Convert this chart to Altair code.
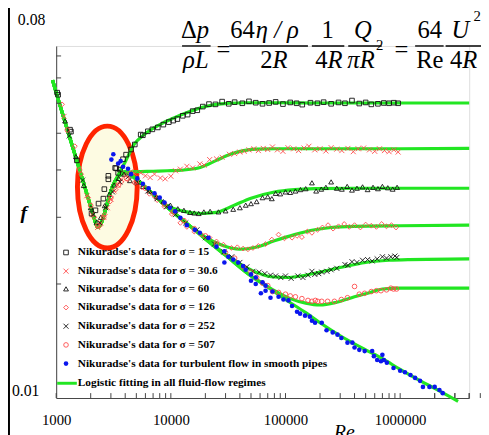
import altair as alt
import pandas as pd

SERIF = "'Liberation Serif', 'Times New Roman', serif"

# ---------------- data (Re, f) ----------------
re15 = [1020, 1040, 1320, 1345, 1515, 2035, 2200, 2340, 2580, 2630, 2850, 2850, 3270, 3340, 3470, 3600, 3830, 4070, 4500, 4850,
        5460, 5700, 6300, 6900, 7700, 8600, 9600, 10500, 11400, 12700, 14000, 15500, 17000, 19000, 21500, 24500, 28000, 32000,
        36000, 42000, 48000, 55000, 63000, 72000, 82000, 95000, 110000, 125000, 140000, 165000, 190000, 215000, 250000, 290000,
        330000, 380000, 440000, 500000, 560000, 640000, 720000, 800000, 880000, 960000]
f15 = [0.0640, 0.0632, 0.0511, 0.0505, 0.0424, 0.0307, 0.0313, 0.0326, 0.0336, 0.0356, 0.0378, 0.0386, 0.0405, 0.0404, 0.0393,
       0.0401, 0.0427, 0.0439, 0.0453, 0.0467, 0.0496, 0.0494, 0.0506, 0.0512, 0.0518, 0.0527, 0.0535, 0.0540, 0.0545, 0.0556,
       0.0560, 0.0572, 0.0575, 0.0588, 0.0597, 0.0596, 0.0606, 0.0598, 0.0604, 0.0600, 0.0607, 0.0602, 0.0598, 0.0601, 0.0605,
       0.0597, 0.0603, 0.0600, 0.0595, 0.0602, 0.0600, 0.0604, 0.0598, 0.0603, 0.0600, 0.0610, 0.0599, 0.0603, 0.0596, 0.0598,
       0.0601, 0.0600, 0.0602, 0.0600]

re30 = [1170, 1850, 2050, 2300, 2450, 2600, 2800, 3000, 3200, 3450, 3700, 4000, 4400, 4800, 5460, 6000, 6600, 7200, 8100, 8930,
        10000, 11000, 12100, 13800, 15500, 17900, 19500, 21800, 25000, 28000, 32400, 36000, 40000, 43600, 48000, 53000, 58000,
        64000, 70000, 77000, 85000, 95000, 105000, 118000, 130000, 145000, 160000, 180000, 200000, 225000, 250000, 280000,
        310000, 350000, 390000, 430000, 480000, 540000, 600000, 660000, 730000, 800000, 880000, 960000]
f30 = [0.0554, 0.0342, 0.0305, 0.0282, 0.0290, 0.0300, 0.0318, 0.0335, 0.0352, 0.0365, 0.0378, 0.0390, 0.0395, 0.0392, 0.0393,
       0.0386, 0.0382, 0.0390, 0.0381, 0.0379, 0.0385, 0.0398, 0.0402, 0.0409, 0.0405, 0.0415, 0.0412, 0.0426, 0.0428, 0.0432,
       0.0440, 0.0442, 0.0446, 0.0448, 0.0452, 0.0455, 0.0450, 0.0456, 0.0453, 0.0460, 0.0452, 0.0448, 0.0458, 0.0455, 0.0450,
       0.0457, 0.0462, 0.0452, 0.0455, 0.0449, 0.0458, 0.0454, 0.0450, 0.0456, 0.0447, 0.0455, 0.0457, 0.0452, 0.0448, 0.0455,
       0.0450, 0.0447, 0.0452, 0.0446]

re60 = [1195, 1485, 1740, 2000, 2250, 2450, 2650, 2900, 3200, 3500, 3900, 4400, 5000, 5700, 6500, 7500, 8600, 9900, 11500, 13000,
        14700, 16000, 17500, 19400, 22000, 26000, 30000, 35000, 40000, 45000, 50000, 56000, 63000, 70000, 76000, 82000, 90000,
        100000, 110000, 122000, 135000, 150000, 170000, 185000, 205000, 225000, 250000, 280000, 310000, 345000, 380000, 420000,
        470000, 520000, 580000, 640000, 700000, 780000, 860000, 940000]
f60 = [0.0539, 0.0434, 0.0364, 0.0318, 0.0291, 0.0300, 0.0322, 0.0345, 0.0365, 0.0380, 0.0390, 0.0375, 0.0372, 0.0362, 0.0352,
       0.0340, 0.0330, 0.0323, 0.0316, 0.0313, 0.0309, 0.0308, 0.0307, 0.0310, 0.0311, 0.0310, 0.0312, 0.0315, 0.0318, 0.0323,
       0.0326, 0.0330, 0.0338, 0.0340, 0.0336, 0.0347, 0.0346, 0.0350, 0.0349, 0.0352, 0.0355, 0.0357, 0.0370, 0.0352, 0.0356,
       0.0360, 0.0372, 0.0358, 0.0356, 0.0362, 0.0354, 0.0358, 0.0361, 0.0355, 0.0360, 0.0357, 0.0362, 0.0359, 0.0356, 0.0360]

re126 = [1125, 1455, 1650, 1900, 2150, 2400, 2650, 2950, 3300, 3700, 4200, 4800, 5600, 6500, 7600, 8800, 10200, 12100, 13800,
         16000, 18500, 21800, 25000, 28700, 33800, 38000, 42700, 47000, 52000, 58000, 67000, 76000, 87000, 98000, 114000,
         126000, 139000, 155000, 170000, 190000, 210000, 235000, 260000, 290000, 325000, 360000, 400000, 450000, 500000,
         560000, 620000, 690000, 760000, 840000, 920000]
f126 = [0.0596, 0.0462, 0.0390, 0.0338, 0.0300, 0.0285, 0.0305, 0.0330, 0.0355, 0.0372, 0.0378, 0.0370, 0.0360, 0.0346, 0.0333,
        0.0320, 0.0306, 0.0290, 0.0283, 0.0275, 0.0270, 0.0265, 0.0259, 0.0254, 0.0249, 0.0250, 0.0248, 0.0247, 0.0249, 0.0252,
        0.0255, 0.0262, 0.0270, 0.0264, 0.0265, 0.0268, 0.0266, 0.0275, 0.0273, 0.0278, 0.0282, 0.0286, 0.0280, 0.0284, 0.0288,
        0.0283, 0.0286, 0.0282, 0.0287, 0.0285, 0.0283, 0.0288, 0.0284, 0.0286, 0.0282]

re252 = [1300, 1700, 2100, 2400, 2700, 3100, 3600, 4300, 5200, 6300, 7600, 9200, 11000, 13500, 16900, 20000, 24000, 29000, 34000,
         40000, 46000, 52000, 59000, 66000, 74000, 82000, 91000, 100000, 112000, 128000, 142000, 157000, 170000, 180000,
         195000, 207000, 230000, 250000, 280000, 330000, 350000, 380000, 420000, 470000, 520000, 570000, 630000, 700000,
         760000, 830000, 900000, 935000]
f252 = [0.0492, 0.0376, 0.0305, 0.0290, 0.0318, 0.0350, 0.0372, 0.0385, 0.0370, 0.0352, 0.0336, 0.0320, 0.0305, 0.0290, 0.0278,
        0.0265, 0.0255, 0.0243, 0.0236, 0.0228, 0.0222, 0.0216, 0.0215, 0.0213, 0.0211, 0.0210, 0.0208, 0.0210, 0.0207, 0.0210,
        0.0208, 0.0211, 0.0216, 0.0212, 0.0213, 0.0215, 0.0216, 0.0218, 0.0220, 0.0225, 0.0224, 0.0229, 0.0228, 0.0231, 0.0232,
        0.0230, 0.0233, 0.0236, 0.0234, 0.0236, 0.0237, 0.0235]

re507 = [1250, 1600, 2000, 2300, 2600, 3000, 3500, 4100, 5000, 6000, 7200, 8800, 10500, 13000, 16000, 20000, 25000, 30000, 36000,
         43000, 50000, 56000, 63000, 70000, 77000, 87000, 100000, 110000, 122000, 139000, 157000, 170000, 182000, 191000,
         207000, 233000, 267000, 307000, 347000, 400000, 440000, 490000, 560000, 620000, 680000, 760000, 830000, 875000, 930000]
f507 = [0.0510, 0.0400, 0.0322, 0.0285, 0.0300, 0.0338, 0.0365, 0.0380, 0.0372, 0.0358, 0.0342, 0.0325, 0.0310, 0.0294, 0.0280,
        0.0268, 0.0255, 0.0242, 0.0234, 0.0222, 0.0215, 0.0208, 0.0201, 0.0198, 0.0191, 0.0190, 0.0188, 0.0186, 0.0185, 0.0183,
        0.0181, 0.0180, 0.0181, 0.0180, 0.0180, 0.0180, 0.0180, 0.0182, 0.0184, 0.0197, 0.0188, 0.0189, 0.0191, 0.0192, 0.0192,
        0.0193, 0.0195, 0.0194, 0.0194]

reT = [3030, 3150, 3470, 3650, 3830, 4230, 4500, 5100, 5700, 6400, 7200, 8000, 8800, 9800, 10900, 12100, 13800, 16200, 17900,
       21300, 25000, 29300, 29300, 31700, 35000, 38700, 42700, 45000, 50000, 50000, 55000, 55000, 61000, 63000, 67000, 67000,
       74000, 77000, 87000, 96000, 106000, 114000, 126000, 134000, 148000, 163000, 170000, 181000, 207000, 228000, 258000,
       284000, 307000, 347000, 383000, 400000, 440000, 490000, 570000, 590000, 630000, 680000, 700000, 720000, 765000, 875000,
       1000000, 1100000, 1230000, 1350000, 1490000, 1580000, 1800000, 2000000, 2200000, 2350000]
fT = [0.0426, 0.0440, 0.0416, 0.0422, 0.0408, 0.0403, 0.0390, 0.0380, 0.0368, 0.0358, 0.0347, 0.0338, 0.0328, 0.0318, 0.0311,
      0.0299, 0.0286, 0.0278, 0.0273, 0.0265, 0.0251, 0.0244, 0.0228, 0.0236, 0.0232, 0.0228, 0.0223, 0.0218, 0.0212, 0.0204,
      0.0208, 0.0200, 0.0189, 0.0202, 0.0198, 0.0192, 0.0184, 0.0191, 0.0185, 0.0182, 0.0181, 0.0175, 0.0169, 0.0167, 0.0165,
      0.0164, 0.0160, 0.0158, 0.0158, 0.0151, 0.0149, 0.0147, 0.0144, 0.0140, 0.0140, 0.0136, 0.0134, 0.0133, 0.0133, 0.0129,
      0.0126, 0.0125, 0.0130, 0.0126, 0.0124, 0.0120, 0.0118, 0.0117, 0.0115, 0.0113, 0.0111, 0.0107, 0.0107, 0.0107, 0.0105,
      0.0103]

# logistic fitting curves
fit_lam_re = [930, 1000, 1200, 1500, 1800, 2100, 2300, 2500, 2800, 3100]
fit_lam_f = [0.0690, 0.0640, 0.0533, 0.0427, 0.0356, 0.0305, 0.0282, 0.0292, 0.0328, 0.0362]
fit_s_re = [3500, 4000, 5000, 7000, 10000, 15000, 20000, 30000, 50000, 70000, 100000, 150000, 200000, 300000, 500000,
            700000, 1000000, 1500000, 2000000, 3200000]
fit_s_f = [0.0385, 0.0395, 0.0378, 0.0345, 0.0313, 0.0283, 0.0263, 0.0238, 0.0210, 0.0196, 0.0182, 0.0168, 0.0158, 0.0146,
           0.0134, 0.0127, 0.0119, 0.0111, 0.0106, 0.0098]
fit15_re = [3500, 4000, 4800, 5800, 7000, 8500, 10500, 13000, 16000, 20000, 25000, 32000, 45000, 80000, 200000, 1000000, 4000000]
fit15_f = [0.0390, 0.0420, 0.0468, 0.0495, 0.0515, 0.0532, 0.0548, 0.0563, 0.0576, 0.0588, 0.0596, 0.0600, 0.0602, 0.0602,
           0.0601, 0.0601, 0.0601]
fit30_re = [3500, 4000, 5000, 7000, 9300, 13000, 18000, 25000, 33000, 43000, 55000, 80000, 200000, 1000000, 4000000]
fit30_f = [0.0385, 0.0393, 0.0396, 0.0397, 0.0398, 0.0400, 0.0406, 0.0424, 0.0440, 0.0450, 0.0454, 0.0455, 0.0455, 0.0455, 0.0456]
fit60_re = [9300, 13000, 18000, 25000, 35000, 50000, 80000, 120000, 180000, 400000, 1000000, 4000000]
fit60_f = [0.0322, 0.0311, 0.0307, 0.0309, 0.0322, 0.0337, 0.0350, 0.0355, 0.0357, 0.0358, 0.0358, 0.0358]
fit126_re = [15000, 20000, 28000, 40000, 55000, 80000, 120000, 180000, 250000, 400000, 1000000, 4000000]
fit126_f = [0.0283, 0.0266, 0.0253, 0.0247, 0.0250, 0.0260, 0.0270, 0.0278, 0.0282, 0.0284, 0.0285, 0.0286]
fit252_re = [30000, 40000, 55000, 75000, 100000, 150000, 200000, 300000, 500000, 800000, 1200000, 4000000]
fit252_f = [0.0240, 0.0226, 0.0215, 0.0209, 0.0208, 0.0211, 0.0215, 0.0221, 0.0228, 0.0231, 0.0232, 0.0233]
fit507_re = [65000, 80000, 110000, 150000, 200000, 280000, 400000, 550000, 700000, 1000000, 4000000]
fit507_f = [0.0200, 0.0192, 0.0183, 0.0178, 0.0176, 0.0179, 0.0185, 0.0190, 0.0194, 0.0195, 0.0195]
branch_after = {"60": 7000, "126": 10000, "252": 20000, "507": 50000}

legend_labels = ["Nikuradse's data for  \u03c3 = 15", "Nikuradse's data for  \u03c3 = 30.6",
                 "Nikuradse's data for  \u03c3 = 60", "Nikuradse's data for  \u03c3 = 126",
                 "Nikuradse's data for  \u03c3 = 252", "Nikuradse's data for  \u03c3 = 507",
                 "Nikuradse's data for turbulent flow in smooth pipes",
                 "Logistic fitting in all fluid-flow regimes"]
x_label_values = [1000, 10000, 100000, 1000000]
decades = [1000, 10000, 100000, 1000000]
multipliers = [1, 2, 3, 4, 5, 6, 7, 8, 9]
extra_ticks = [2000000, 3000000, 4000000]
y_tick_values = [0.02, 0.03, 0.04, 0.05, 0.06, 0.07, 0.08]

# ---------------- styling ----------------
GREEN = "#22e622"
RED = "#ff4a4a"
BLACK = "#111111"
BLUE = "#0a16ee"
XPATH = "M-1,-1L1,1M-1,1L1,-1"
OX, OY = 57, 43          # page position of the plot origin
W, H = 420, 358

xs = alt.Scale(type="log", domain=[1000, 4000000], nice=False)
ys = alt.Scale(type="log", domain=[0.01, 0.085], nice=False)
X = alt.X("Re:Q", scale=xs,
          axis=alt.Axis(values=x_label_values, format="d", labelFont=SERIF, labelFontSize=15, labelColor="black",
                        ticks=False, tickSize=0, grid=False, domainColor="#444", labelPadding=15, title=None,
                        labelFlush=False))
Y = alt.Y("f:Q", scale=ys, axis=alt.Axis(labels=False, ticks=False, grid=False, domainColor="#444", title=None))

one = pd.DataFrame({"a": [0]})


def txt(s, px, py, size, style="normal", weight="normal", align="center", baseline="alphabetic"):
    return alt.Chart(one).mark_text(text=s, font=SERIF, fontSize=size, fontStyle=style, fontWeight=weight,
                                    align=align, baseline=baseline, color="black").encode(
        x=alt.value(px - OX), y=alt.value(py - OY))


def hbar(x1, x2, py, color="black", width=1.4):
    return alt.Chart(one).mark_rule(color=color, strokeWidth=width).encode(
        x=alt.value(x1 - OX), x2=alt.value(x2 - OX), y=alt.value(py - OY))


layers = []

# highlight ellipse around the transition region
k = 0.552
rx = 0.49
ell = (f"M0,-1C{k*rx:.3f},-1 {rx},-{k} {rx},0C{rx},{k} {k*rx:.3f},1 0,1"
       f"C-{k*rx:.3f},1 -{rx},{k} -{rx},0C-{rx},-{k} -{k*rx:.3f},-1 0,-1Z")
layers.append(alt.Chart(one).mark_point(shape=ell, size=124 * 124, filled=True, fill="#fdfbe2", stroke="#ff2400",
                                        strokeWidth=5, opacity=1, fillOpacity=1, strokeOpacity=1).encode(
    x=alt.value(109 - OX), y=alt.value(186.5 - OY)))

# green fitting curves
rows = []
def add_curve(name, re, f):
    for r, v in zip(re, f):
        rows.append({"Re": r, "f": v, "curve": name})

add_curve("15", fit_lam_re + fit15_re, fit_lam_f + fit15_f)
add_curve("30.6", fit_lam_re + fit30_re, fit_lam_f + fit30_f)
for name, tre, tf in [("60", fit60_re, fit60_f), ("126", fit126_re, fit126_f),
                      ("252", fit252_re, fit252_f), ("507", fit507_re, fit507_f)]:
    sre = [r for r in fit_s_re if r <= branch_after[name]]
    sf = fit_s_f[:len(sre)]
    add_curve(name, fit_lam_re + sre + tre, fit_lam_f + sf + tf)
add_curve("smooth", fit_lam_re + fit_s_re, fit_lam_f + fit_s_f)
fit_df = pd.DataFrame(rows)
layers.append(alt.Chart(fit_df).mark_line(color=GREEN, strokeWidth=3.2, interpolate="monotone", clip=False).encode(
    x=X, y=Y, detail="curve:N", order="Re:Q"))

# scatter series
series = [
    (re15, f15, "square", BLACK, False, 22),
    (re30, f30, XPATH, RED, False, 26),
    (re60, f60, "triangle-up", BLACK, False, 24),
    (re126, f126, "diamond", RED, False, 24),
    (re252, f252, XPATH, BLACK, False, 26),
    (re507, f507, "circle", RED, False, 22),
    (reT, fT, "circle", BLUE, True, 22),
]
for re_, f_, shape, col, filled, size in series:
    df = pd.DataFrame({"Re": re_, "f": f_})
    layers.append(alt.Chart(df).mark_point(shape=shape, color=col, filled=filled, size=size,
                                           strokeWidth=0.9, opacity=1).encode(x=X, y=Y))

# inward ticks
xt = pd.DataFrame({"Re": [d * m for d in decades for m in multipliers] + extra_ticks})
layers.append(alt.Chart(xt).mark_rule(color="#444", strokeWidth=1).encode(
    x=X, y=alt.value(H), y2=alt.value(H - 5)))
yt = pd.DataFrame({"f": y_tick_values})
layers.append(alt.Chart(yt).mark_rule(color="#444", strokeWidth=1).encode(
    y=Y, x=alt.value(0), x2=alt.value(5)))

# legend
leg_y = [253, 272, 290, 309, 328, 347, 366, 386]
for i, (re_, f_, shape, col, filled, size) in enumerate(series):
    layers.append(alt.Chart(one).mark_point(shape=shape, color=col, filled=filled, size=size, strokeWidth=0.9,
                                            opacity=1).encode(x=alt.value(67 - OX), y=alt.value(leg_y[i] - OY)))
layers.append(hbar(58, 78, leg_y[7], color=GREEN, width=3))
for i, lab in enumerate(legend_labels):
    layers.append(txt(lab, 79, leg_y[i], 11.5, weight="bold", align="left", baseline="middle"))

# axis texts
layers.append(txt("0.08", 32, 22, 16, align="center"))
layers.append(txt("0.01", 26, 399, 16, align="center"))
layers.append(txt("f", 24, 219, 20, style="italic", weight="bold"))
layers.append(txt("Re", 350, 442, 20, style="italic"))

# formula
FS = 25
NB, DB = 35, 65
layers += [
    txt("\u0394", 200, NB, FS, align="right"), txt("p", 200, NB, FS, style="italic", align="left"),
    txt("\u03c1L", 199, DB, FS, style="italic"), hbar(185, 214, 43),
    txt("=", 227, 55, FS),
    txt("64", 259, NB, FS, align="right"), txt("\u03b7 / \u03c1", 260, NB, FS, style="italic", align="left"),
    txt("2", 277, DB, FS, align="right"), txt("R", 277, DB, FS, style="italic", align="left"), hbar(233, 313, 43),
    txt("1", 333, NB, FS), txt("4", 333, DB, FS, align="right"), txt("R", 333, DB, FS, style="italic", align="left"),
    hbar(317, 350, 43),
    txt("Q", 369, NB, FS, style="italic"), txt("\u03c0R", 367, DB, FS, style="italic"), txt("2", 386, 47, 15),
    hbar(354, 388, 43),
    txt("=", 408, 55, FS),
    txt("64", 437, NB, FS), txt("Re", 437, DB, FS), hbar(422, 451, 43),
    txt("U", 468, NB, FS, style="italic"), txt("2", 485, 18, 15),
    txt("4", 470, DB, FS, align="right"), txt("R", 470, DB, FS, style="italic", align="left"), hbar(453, 500, 43),
]

# left frame line
layers.append(alt.Chart(one).mark_rule(color="black", strokeWidth=2).encode(
    x=alt.value(-48), y=alt.value(-40), y2=alt.value(H + 40)))

chart = alt.layer(*layers).properties(
    width=W, height=H,
    autosize=alt.AutoSizeParams(type="none"),
    padding={"left": OX - 8, "top": OY - 8, "right": 12, "bottom": 34},
).configure_view(stroke=None).configure(background="white")

chart.save("out.html", embed_options={"renderer": "svg", "actions": False})
